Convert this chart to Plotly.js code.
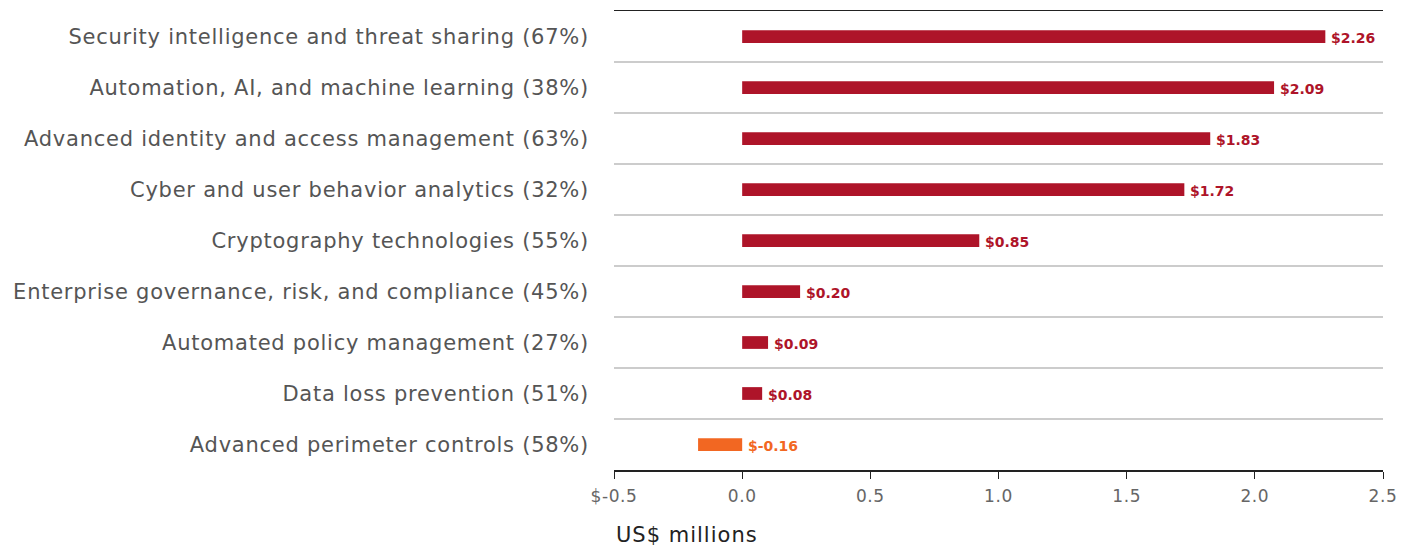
<!DOCTYPE html>
<html>
<head>
<meta charset="utf-8">
<script src="https://cdn.plot.ly/plotly-3.0.1.min.js"></script>
<style>
  html, body { margin: 0; padding: 0; background: #fff; }
  #chart { width: 1413px; height: 549px; }
  /* the original type is wider than anything installed, so open it up a bit */
  #chart g.ytick text { letter-spacing: 0.75px; }
  #chart g.xtick text { letter-spacing: 0.6px; }
  #chart g.annotation[data-index="9"] text { letter-spacing: 1px; }
</style>
</head>
<body>
<div id="chart"></div>
<script>
// categories top to bottom
const categories = [
    "Security intelligence and threat sharing (67%)",
    "Automation, AI, and machine learning (38%)",
    "Advanced identity and access management (63%)",
    "Cyber and user behavior analytics (32%)",
    "Cryptography technologies (55%)",
    "Enterprise governance, risk, and compliance (45%)",
    "Automated policy management (27%)",
    "Data loss prevention (51%)",
    "Advanced perimeter controls (58%)"
];
// bar lengths as drawn (US$ millions)
const barValues = [2.275, 2.075, 1.826, 1.725, 0.925, 0.226, 0.101, 0.078, -0.172];
const valueLabels = ["$2.26", "$2.09", "$1.83", "$1.72", "$0.85", "$0.20", "$0.09", "$0.08", "$-0.16"];

const tickVals = [-0.5, 0, 0.5, 1, 1.5, 2, 2.5];
const tickText = ["$-0.5", "0.0", "0.5", "1.0", "1.5", "2.0", "2.5"];

const red = "#ae1429";
const orange = "#f26722";
const colors = barValues.map(v => v < 0 ? orange : red);
const wideFont = "DejaVu Sans, sans-serif";

const trace = {
    type: "bar",
    orientation: "h",
    x: barValues,
    y: categories,
    width: 0.25,
    marker: {color: colors},
    hoverinfo: "none"
};

// value labels sit just right of the bar end (or of zero for negatives)
const labelNotes = barValues.map((v, i) => ({
    x: Math.max(v, 0),
    y: categories[i],
    xref: "x",
    yref: "y",
    text: "<b>" + valueLabels[i] + "</b>",
    showarrow: false,
    xanchor: "left",
    xshift: 4,
    yshift: -1,
    font: {family: wideFont, size: 14, color: colors[i]}
}));

labelNotes.push({
    x: 0,
    y: 0,
    xref: "paper",
    yref: "paper",
    xanchor: "left",
    yanchor: "top",
    xshift: 6,
    yshift: -51,
    text: "US$ millions",
    showarrow: false,
    font: {family: wideFont, size: 21, color: "#222"}
});

const layout = {
    width: 1413,
    height: 549,
    margin: {l: 614, r: 30, t: 11, b: 79},
    paper_bgcolor: "#fff",
    plot_bgcolor: "#fff",
    showlegend: false,
    font: {family: wideFont},
    xaxis: {
        range: [-0.5, 2.5],
        tickvals: tickVals,
        ticktext: tickText,
        showgrid: false,
        zeroline: false,
        showline: true,
        linecolor: "#222",
        linewidth: 1.5,
        mirror: true,
        ticks: "outside",
        ticklen: 7,
        tickcolor: "#222",
        ticklabelstandoff: 3,
        tickfont: {size: 17, color: "#666"},
        fixedrange: true
    },
    yaxis: {
        type: "category",
        autorange: "reversed",
        tickson: "boundaries",
        showgrid: true,
        gridcolor: "#cccccc",
        gridwidth: 1.5,
        showline: false,
        zeroline: false,
        ticks: "",
        ticklabelstandoff: 24,
        tickfont: {size: 21, color: "#555"},
        fixedrange: true
    },
    annotations: labelNotes
};

Plotly.newPlot("chart", [trace], layout, {displayModeBar: false, staticPlot: true});
</script>
</body>
</html>
